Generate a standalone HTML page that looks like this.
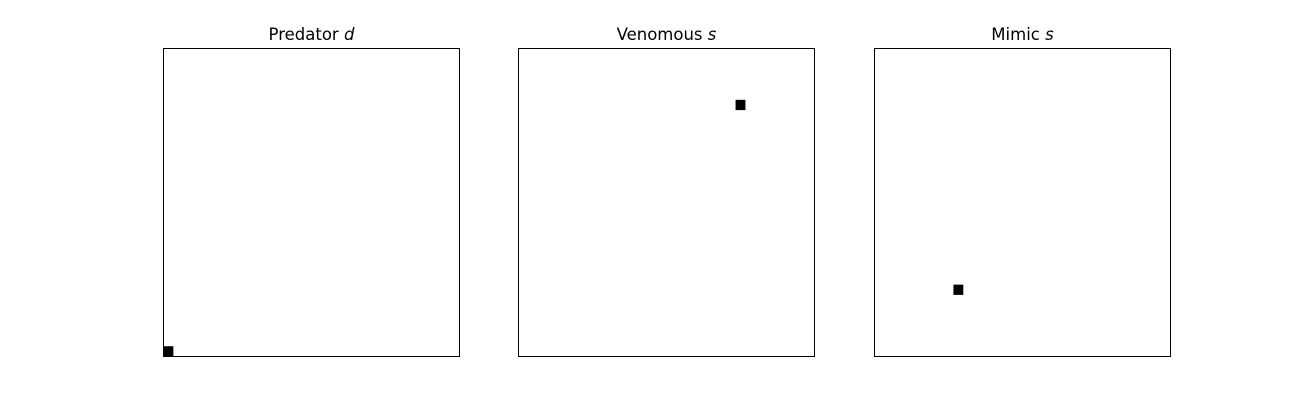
<!DOCTYPE html>
<html><head><meta charset="utf-8"><style>
body{margin:0;background:#fff;width:1300px;height:400px;overflow:hidden}
svg text{font-family:"DejaVu Sans","Liberation Sans",sans-serif;font-size:16.5px}
</style></head><body>
<svg id="chart" width="1300" height="400"></svg>
<script>
const titles = ["Predator", "Venomous", "Mimic"];
const titleVars = ["d", "s", "s"];
const markCols = [0, 22, 8];
const markRows = [29, 5, 23];
const gridN = 30;
const lefts = [163.5, 518.5, 874.5];
const top0 = 48.5, pw = 296, ph = 308;
const NS = "http://www.w3.org/2000/svg";
const svg = document.getElementById('chart');
function mk(t, a, p){const e=document.createElementNS(NS,t);for(const k in a)e.setAttribute(k,a[k]);(p||svg).appendChild(e);return e;}
titles.forEach((t,i)=>{
  const g = mk('g',{});
  
  
  const x0 = lefts[i];
  const sx = c => x0 + c * pw / gridN;
  const sy = r => top0 + r * ph / gridN;
  const cell = mk('rect',{x:sx(markCols[i]),y:sy(markRows[i]),width:pw/gridN,height:ph/gridN,fill:'#000'},g);
  
  
  const fr = mk('rect',{x:x0,y:top0,width:pw,height:ph,fill:'none',stroke:'#000','stroke-width':1},g);
  
  
  const tx = mk('text',{x:x0+pw/2,y:40,'text-anchor':'middle',fill:'#000'},g);
  
  
  tx.appendChild(document.createTextNode(t + ' '));
  const ts = mk('tspan',{'font-style':'italic'},tx);
  ts.textContent = titleVars[i];
});
</script>
</body></html>
